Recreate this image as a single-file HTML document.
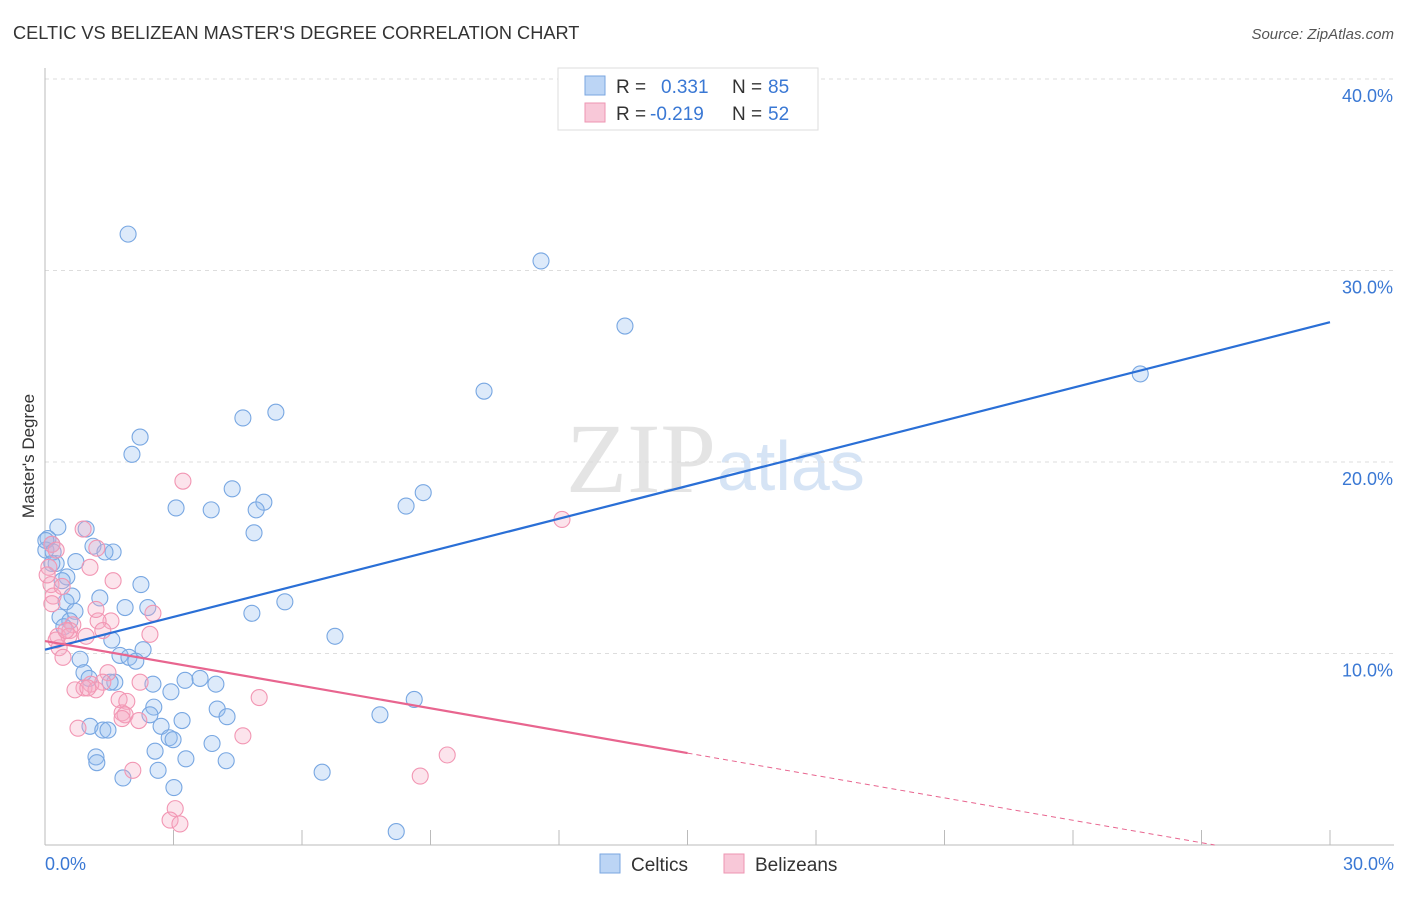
<!DOCTYPE html>
<html><head><meta charset="utf-8"><style>
body{margin:0;background:#fff;font-family:"Liberation Sans",sans-serif;}
</style></head><body>
<svg width="1406" height="892" xmlns="http://www.w3.org/2000/svg" id="svg">
<text x="13" y="39" font-size="18.2" fill="#333">CELTIC VS BELIZEAN MASTER'S DEGREE CORRELATION CHART</text>
<text x="1394" y="39" font-size="15" fill="#555" font-style="italic" text-anchor="end">Source: ZipAtlas.com</text>
<text x="716" y="492" font-size="100" fill="#e4e4e4" text-anchor="end" font-family="Liberation Serif,serif">ZIP</text>
<text x="717" y="490" font-size="70" fill="#d6e4f5">atlas</text>
<text x="34" y="456" font-size="17" fill="#333" text-anchor="middle" transform="rotate(-90 34 456)">Master's Degree</text>
<g id="grid"></g><g id="marks"></g>
<g>
<rect x="558" y="68" width="260" height="62" fill="#fff" stroke="#ddd"/>
<rect x="585" y="76" width="20" height="19" fill="#bcd5f5" stroke="#7aa6e0"/>
<text x="616" y="93" font-size="19" fill="#333">R = </text><text x="661" y="93" font-size="19" fill="#3a78d4">0.331</text>
<text x="732" y="93" font-size="19" fill="#333">N = </text><text x="768" y="93" font-size="19" fill="#3a78d4">85</text>
<rect x="585" y="103" width="20" height="19" fill="#f8c8d8" stroke="#ee95b2"/>
<text x="616" y="120" font-size="19" fill="#333">R = </text><text x="650" y="120" font-size="19" fill="#3a78d4">-0.219</text>
<text x="732" y="120" font-size="19" fill="#333">N = </text><text x="768" y="120" font-size="19" fill="#3a78d4">52</text>
</g>
<g>
<rect x="600" y="854" width="20" height="19" fill="#bcd5f5" stroke="#7aa6e0"/>
<text x="631" y="871" font-size="19" fill="#333">Celtics</text>
<rect x="724" y="854" width="20" height="19" fill="#f8c8d8" stroke="#ee95b2"/>
<text x="755" y="871" font-size="19" fill="#333">Belizeans</text>
</g>
<text x="45" y="870" font-size="18" fill="#3a78d4">0.0%</text>
<text x="1394" y="870" font-size="18" fill="#3a78d4" text-anchor="end">30.0%</text>
</svg>
<script>
const yTicks=[10,20,30,40];
const blueX=[1.94,11.58,13.54,25.57,10.25,5.39,4.62,2.22,2.03,4.37,8.83,5.11,3.06,3.88,4.93,8.43,4.88,0.30,0.96,0.07,0.16,0.02,1.12,1.59,1.40,0.26,0.72,0.51,2.24,0.40,0.63,1.28,0.49,5.60,1.87,2.40,4.83,0.70,0.35,0.58,6.77,1.56,2.29,1.75,1.96,2.12,0.82,0.91,1.03,1.63,2.52,1.52,2.94,3.27,3.62,3.99,8.62,2.54,4.02,2.45,4.25,3.20,7.82,1.05,1.35,2.71,2.90,2.99,2.57,3.90,1.19,1.21,3.29,4.23,2.64,6.47,1.82,3.01,8.20,1.47,0.02,0.19,0.16,0.44];
const blueY=[31.9,30.5,27.1,24.6,23.7,22.6,22.3,21.3,20.4,18.6,18.4,17.9,17.6,17.5,17.5,17.7,16.3,16.6,16.5,16.0,15.7,15.4,15.6,15.3,15.3,14.7,14.8,14.0,13.6,13.8,13.0,12.9,12.7,12.7,12.4,12.4,12.1,12.2,11.9,11.7,10.9,10.7,10.2,9.9,9.8,9.6,9.7,9.0,8.7,8.5,8.4,8.5,8.0,8.6,8.7,8.4,7.6,7.2,7.1,6.8,6.7,6.5,6.8,6.2,6.0,6.2,5.6,5.5,4.9,5.3,4.6,4.3,4.5,4.4,3.9,3.8,3.5,3.0,0.7,6.0,15.9,15.3,14.7,11.4];
const pinkX=[3.22,12.07,0.89,1.21,0.16,0.26,0.09,1.05,1.59,0.14,0.19,0.16,2.52,1.54,1.24,0.65,0.58,1.35,2.45,0.30,0.56,0.96,0.33,0.42,1.47,2.22,1.35,1.07,0.91,0.70,1.19,1.73,1.91,5.00,1.80,1.87,2.19,0.77,4.62,9.39,8.76,2.05,3.04,2.92,3.15,0.40,1.19,0.05,0.26,1.00,1.80,0.49];
const pinkY=[19.0,17.0,16.5,15.5,15.7,15.4,14.5,14.5,13.8,13.6,13.0,12.6,12.1,11.7,11.7,11.5,11.2,11.2,11.0,10.9,10.9,10.9,10.3,9.8,9.0,8.5,8.5,8.4,8.2,8.1,8.1,7.6,7.5,7.7,6.9,6.8,6.5,6.1,5.7,4.7,3.6,3.9,1.9,1.3,1.1,13.5,12.3,14.1,10.7,8.2,6.6,11.2];
const blueTrend=[10.2,27.3];
const pinkTrend=[10.65,-0.39];
const pinkSolidEnd=15;
const X=v=>45+v*1285/30;
const Y=v=>845-v*19.15;
const NS='http://www.w3.org/2000/svg';
const grid=document.getElementById('grid'),marks=document.getElementById('marks');
function mk(tag,a,parent){const e=document.createElementNS(NS,tag);for(const k in a)e.setAttribute(k,a[k]);parent.appendChild(e);return e;}
yTicks.forEach(t=>{
 const l=mk('line',{x1:45,x2:1394,y1:Y(t),y2:Y(t),stroke:'#ddd','stroke-dasharray':'4,4'},grid);
 
 
 const tx=mk('text',{x:1393,y:Y(t)+23,'font-size':18,fill:'#3a78d4','text-anchor':'end'},grid);
 tx.textContent=t.toFixed(1)+'%';
 
 
});
const ax=mk('line',{x1:45,x2:45,y1:68,y2:845,stroke:'#bbb'},grid);


const bx=mk('line',{x1:45,x2:1394,y1:845,y2:845,stroke:'#bbb'},grid);


for(let i=1;i<=10;i++){const t=mk('line',{x1:X(i*3),x2:X(i*3),y1:830,y2:845,stroke:'#bbb'},grid);
 
 }
blueX.forEach((x,i)=>{const c=mk('circle',{cx:X(x),cy:Y(blueY[i]),r:8,fill:'rgba(150,190,238,0.32)',stroke:'#78a7e2','stroke-width':1.1},marks);
 
 });
pinkX.forEach((x,i)=>{const c=mk('circle',{cx:X(x),cy:Y(pinkY[i]),r:8,fill:'rgba(245,170,196,0.32)',stroke:'#f296b3','stroke-width':1.1},marks);
 
 });
const bl=mk('line',{x1:X(0),y1:Y(blueTrend[0]),x2:X(30),y2:Y(blueTrend[1]),stroke:'#2a6fd6','stroke-width':2.2},marks);


const pf=x=>pinkTrend[0]+pinkTrend[1]*x;
const pl=mk('line',{x1:X(0),y1:Y(pf(0)),x2:X(pinkSolidEnd),y2:Y(pf(pinkSolidEnd)),stroke:'#e8658f','stroke-width':2.2},marks);


const xe=-pinkTrend[0]/pinkTrend[1];
const pd=mk('line',{x1:X(pinkSolidEnd),y1:Y(pf(pinkSolidEnd)),x2:X(xe),y2:Y(0),stroke:'#e8658f','stroke-width':1,'stroke-dasharray':'5,4'},marks);


</script>
</body></html>
